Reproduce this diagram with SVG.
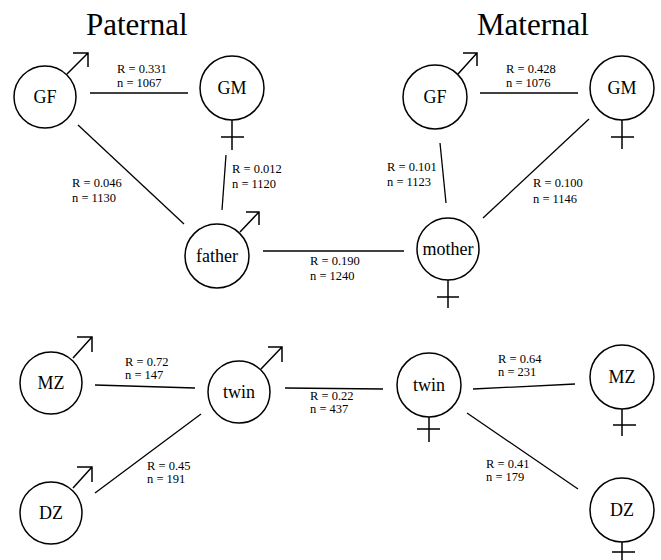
<svg xmlns="http://www.w3.org/2000/svg" width="661" height="560" viewBox="0 0 661 560">
<style>
.n{fill:none;stroke:#000;stroke-width:1.5}
.s{fill:none;stroke:#000;stroke-width:1.5}
.c{fill:none;stroke:#000;stroke-width:1.3}
.lb{font-family:"Liberation Serif","Times New Roman",serif;font-size:18px;text-anchor:middle;fill:#000}
.t{font-family:"Liberation Serif","Times New Roman",serif;font-size:31px;fill:#000}
.e{font-family:"Liberation Serif","Times New Roman",serif;font-size:12.5px;fill:#000}
</style>
<rect width="661" height="560" fill="#fff"/>
<text class="t" x="86" y="35">Paternal</text>
<text class="t" x="477" y="35">Maternal</text>

<g id="connectors">
<line class="c" x1="90" y1="93" x2="188" y2="93"/>
<line class="c" x1="480" y1="93" x2="578" y2="93"/>
<line class="c" x1="78" y1="125" x2="184" y2="224"/>
<line class="c" x1="226" y1="155" x2="222" y2="210"/>
<line class="c" x1="263" y1="251" x2="404" y2="251"/>
<line class="c" x1="440" y1="143" x2="446" y2="203"/>
<line class="c" x1="589" y1="119" x2="483" y2="218"/>
<line class="c" x1="95" y1="385" x2="195" y2="388"/>
<line class="c" x1="95" y1="493" x2="201" y2="414"/>
<line class="c" x1="285" y1="388" x2="383" y2="389"/>
<line class="c" x1="473" y1="389" x2="575" y2="384"/>
<line class="c" x1="467" y1="413" x2="578" y2="489"/>
<text class="e" x="117" y="73">R = 0.331</text>
<text class="e" x="117" y="87">n = 1067</text>
<text class="e" x="506" y="73">R = 0.428</text>
<text class="e" x="506" y="87">n = 1076</text>
<text class="e" x="72" y="187">R = 0.046</text>
<text class="e" x="72" y="202">n = 1130</text>
<text class="e" x="232" y="173">R = 0.012</text>
<text class="e" x="232" y="188">n = 1120</text>
<text class="e" x="387" y="171">R = 0.101</text>
<text class="e" x="387" y="186">n = 1123</text>
<text class="e" x="533" y="187">R = 0.100</text>
<text class="e" x="533" y="203">n = 1146</text>
<text class="e" x="310" y="265">R = 0.190</text>
<text class="e" x="310" y="280">n = 1240</text>
<text class="e" x="125" y="366">R = 0.72</text>
<text class="e" x="125" y="379">n = 147</text>
<text class="e" x="147" y="470">R = 0.45</text>
<text class="e" x="147" y="483">n = 191</text>
<text class="e" x="310" y="400">R = 0.22</text>
<text class="e" x="310" y="413">n = 437</text>
<text class="e" x="498" y="363">R = 0.64</text>
<text class="e" x="498" y="376">n = 231</text>
<text class="e" x="486" y="468">R = 0.41</text>
<text class="e" x="486" y="481">n = 179</text>
</g>

<g id="pat-gf">
<circle class="n" cx="45" cy="97" r="31"/>
<path class="s" d="M67 74 L88 53 M73 53 H88 V67"/>
<text class="lb" x="45" y="103">GF</text>
</g>
<g id="pat-gm">
<circle class="n" cx="232" cy="88" r="32"/>
<path class="s" d="M232 120 V150 M221 137 H244"/>
<text class="lb" x="232" y="94">GM</text>
</g>
<g id="mat-gf">
<circle class="n" cx="435" cy="97" r="32"/>
<path class="s" d="M458 74 L477 53 M463 53 H477 V66"/>
<text class="lb" x="435" y="103">GF</text>
</g>
<g id="mat-gm">
<circle class="n" cx="622" cy="88" r="32"/>
<path class="s" d="M622 120 V149 M611 137 H634"/>
<text class="lb" x="622" y="94">GM</text>
</g>
<g id="father">
<circle class="n" cx="217" cy="256" r="32"/>
<path class="s" d="M240 232 L259 212 M246 212 H259 V225"/>
<text class="lb" x="217" y="262">father</text>
</g>
<g id="mother">
<circle class="n" cx="448" cy="249" r="31"/>
<path class="s" d="M448 280 V308 M437 297 H459"/>
<text class="lb" x="448" y="255">mother</text>
</g>
<g id="mz-male">
<circle class="n" cx="51" cy="383" r="31"/>
<path class="s" d="M73 358 L92 337 M77 337 H92 V352"/>
<text class="lb" x="51" y="389">MZ</text>
</g>
<g id="twin-male">
<circle class="n" cx="239" cy="392" r="31"/>
<path class="s" d="M261 369 L282 347 M268 347 H282 V362"/>
<text class="lb" x="239" y="398">twin</text>
</g>
<g id="dz-male">
<circle class="n" cx="51" cy="513" r="31"/>
<path class="s" d="M73 488 L92 467 M77 467 H92 V482"/>
<text class="lb" x="51" y="519">DZ</text>
</g>
<g id="twin-female">
<circle class="n" cx="429" cy="385" r="32"/>
<path class="s" d="M429 417 V442 M417 429 H440"/>
<text class="lb" x="429" y="391">twin</text>
</g>
<g id="mz-female">
<circle class="n" cx="622" cy="377" r="32"/>
<path class="s" d="M622 409 V436 M613 425 H636"/>
<text class="lb" x="622" y="383">MZ</text>
</g>
<g id="dz-female">
<circle class="n" cx="622" cy="510" r="32"/>
<path class="s" d="M622 542 V560 M612 552 H635"/>
<text class="lb" x="622" y="516">DZ</text>
</g>
</svg>
